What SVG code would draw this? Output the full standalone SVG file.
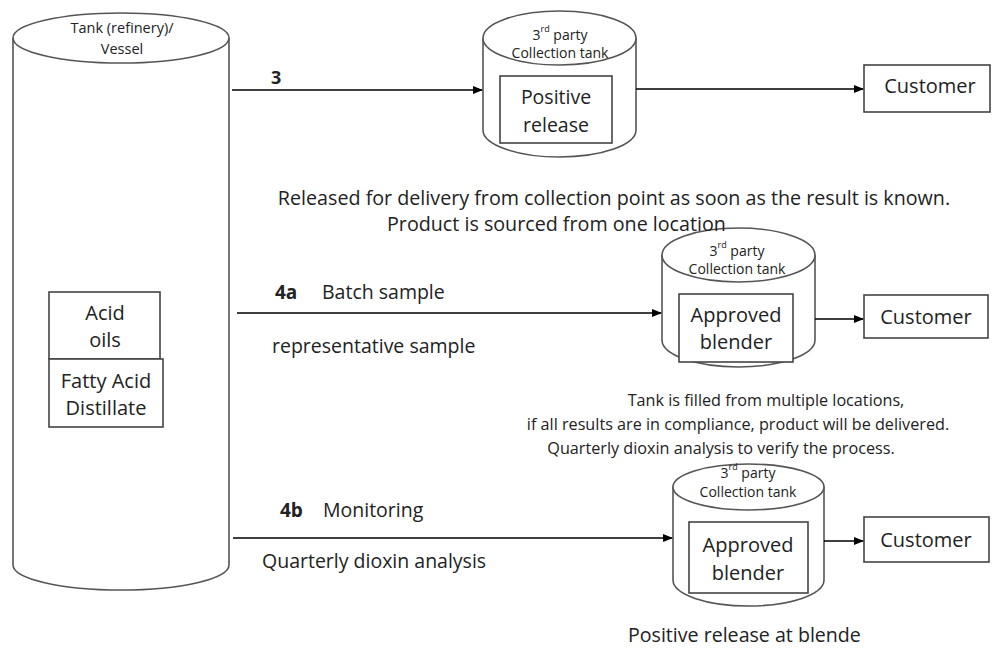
<svg xmlns="http://www.w3.org/2000/svg" width="993" height="653" viewBox="0 0 993 653">
<defs>
<marker id="ah" markerWidth="10" markerHeight="8" refX="9" refY="4" orient="auto" markerUnits="userSpaceOnUse">
<path d="M0,0 L10,4 L0,8 Z" fill="#000"/>
</marker>
<style>
.s{fill:#fff;stroke:#555;stroke-width:1.6}
.b{fill:#fff;stroke:#444;stroke-width:1.6}
.t{font-family:"Open Sans","Noto Sans",sans-serif;fill:#222}
.c{stroke:#000;stroke-width:1.3;fill:none;marker-end:url(#ah)}
</style>
</defs>
<rect width="993" height="653" fill="#fff"/>

<g id="tank-main">
<path class="s" d="M13,38 L13,565 A108,25 0 0 0 229,565 L229,38"/>
<ellipse class="s" cx="121" cy="38" rx="108" ry="25"/>
<text class="t" x="122" y="33" font-size="14.5" text-anchor="middle">Tank (refinery)/</text>
<text class="t" x="122" y="54" font-size="14.5" text-anchor="middle">Vessel</text>
</g>
<g id="acid-oils">
<rect class="b" x="49" y="292" width="111" height="67"/>
<text class="t" x="105" y="320" font-size="20" text-anchor="middle">Acid</text>
<text class="t" x="105" y="347" font-size="20" text-anchor="middle">oils</text>
</g>
<g id="fatty-acid">
<rect class="b" x="49" y="359" width="114" height="68"/>
<text class="t" x="106" y="388" font-size="20" text-anchor="middle">Fatty Acid</text>
<text class="t" x="106" y="415" font-size="20" text-anchor="middle">Distillate</text>
</g>

<g id="tank-1">
<path class="s" d="M483,38 L483,130 A76.5,27 0 0 0 636,130 L636,38"/>
<ellipse class="s" cx="559.5" cy="38" rx="76.5" ry="27"/>
<text class="t" x="560" y="40" font-size="14" text-anchor="middle">3<tspan dy="-8" font-size="9">rd</tspan><tspan dy="8"> party</tspan></text>
<text class="t" x="560" y="58" font-size="14" text-anchor="middle">Collection tank</text>
<rect class="b" x="500" y="76" width="112" height="67"/>
<text class="t" x="556" y="104" font-size="19.5" text-anchor="middle">Positive</text>
<text class="t" x="556" y="132" font-size="19.5" text-anchor="middle">release</text>
</g>
<g id="customer-1">
<rect class="b" x="864" y="65" width="126" height="47"/>
<text class="t" x="930" y="93" font-size="20" text-anchor="middle">Customer</text>
</g>

<g id="tank-2">
<path class="s" d="M662,255 L662,340 A76.5,27 0 0 0 815,340 L815,255"/>
<ellipse class="s" cx="738.5" cy="255" rx="76.5" ry="27"/>
<text class="t" x="737" y="256" font-size="14" text-anchor="middle">3<tspan dy="-8" font-size="9">rd</tspan><tspan dy="8"> party</tspan></text>
<text class="t" x="737" y="274" font-size="14" text-anchor="middle">Collection tank</text>
<rect class="b" x="679" y="294" width="114" height="68"/>
<text class="t" x="736" y="322" font-size="20" text-anchor="middle">Approved</text>
<text class="t" x="736" y="349" font-size="20" text-anchor="middle">blender</text>
</g>
<g id="customer-2">
<rect class="b" x="864" y="295" width="124" height="43"/>
<text class="t" x="926" y="324" font-size="20" text-anchor="middle">Customer</text>
</g>

<g id="tank-3">
<path class="s" d="M673,487 L673,580 A75.5,26 0 0 0 824,580 L824,487"/>
<ellipse class="s" cx="748.5" cy="487" rx="75.5" ry="23"/>
<text class="t" x="748" y="478" font-size="14" text-anchor="middle">3<tspan dy="-8" font-size="9">rd</tspan><tspan dy="8"> party</tspan></text>
<text class="t" x="748" y="497" font-size="14" text-anchor="middle">Collection tank</text>
<rect class="b" x="689" y="522" width="119" height="71"/>
<text class="t" x="748" y="552" font-size="20" text-anchor="middle">Approved</text>
<text class="t" x="748" y="580" font-size="20" text-anchor="middle">blender</text>
</g>
<g id="customer-3">
<rect class="b" x="864" y="517" width="125" height="45"/>
<text class="t" x="926" y="547" font-size="20" text-anchor="middle">Customer</text>
</g>

<g id="connectors">
<line class="c" x1="232" y1="90" x2="482" y2="90"/>
<line class="c" x1="636" y1="89" x2="863" y2="89"/>
<line class="c" x1="237" y1="313" x2="661" y2="313"/>
<line class="c" x1="815" y1="319" x2="863" y2="319"/>
<line class="c" x1="233" y1="538" x2="672" y2="538"/>
<line class="c" x1="824" y1="541" x2="863" y2="541"/>
</g>

<g id="labels">
<text class="t" x="271" y="84" font-size="18" font-weight="bold">3</text>
<text class="t" x="275" y="299" font-size="19" font-weight="bold">4a</text>
<text class="t" x="322" y="299" font-size="19.5">Batch sample</text>
<text class="t" x="272" y="353" font-size="19.5">representative sample</text>
<text class="t" x="280" y="517" font-size="19" font-weight="bold">4b</text>
<text class="t" x="323" y="517" font-size="19.5">Monitoring</text>
<text class="t" x="262" y="568" font-size="19.5">Quarterly dioxin analysis</text>
<text class="t" x="614" y="205" font-size="19.7" text-anchor="middle">Released for delivery from collection point as soon as the result is known.</text>
<text class="t" x="387" y="231" font-size="19.7">Product is sourced from one location</text>
<text class="t" x="766" y="406" font-size="16.2" text-anchor="middle">Tank is filled from multiple locations,</text>
<text class="t" x="738" y="430" font-size="16.2" text-anchor="middle">if all results are in compliance, product will be delivered.</text>
<text class="t" x="721" y="454" font-size="16.2" text-anchor="middle">Quarterly dioxin analysis to verify the process.</text>
<text class="t" x="628" y="642" font-size="19.6">Positive release at blende</text>
</g>
</svg>
